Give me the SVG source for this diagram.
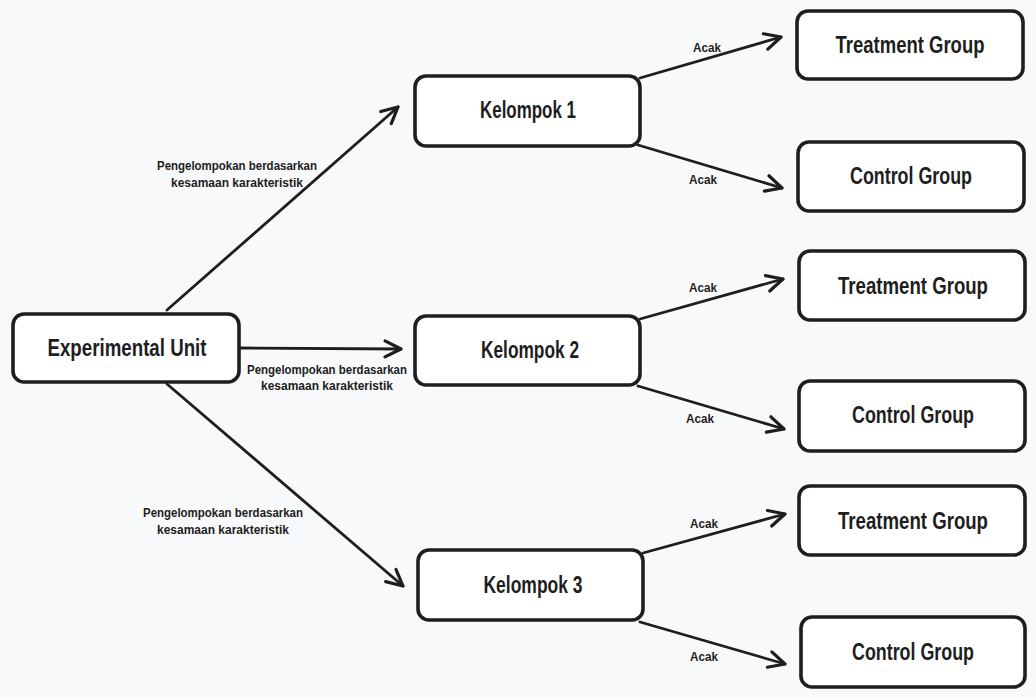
<svg xmlns="http://www.w3.org/2000/svg" width="1036" height="697" viewBox="0 0 1036 697">
<defs>
<marker id="arr" markerUnits="userSpaceOnUse" markerWidth="30" markerHeight="30" viewBox="-20 -15 30 30" refX="0" refY="0" orient="auto" overflow="visible">
<path d="M-16,-8 L0,0 L-16,8" fill="none" stroke="#1e1e1e" stroke-width="3.2" stroke-linecap="round" stroke-linejoin="round"/>
</marker>
<style>
.box{fill:#ffffff;stroke:#1e1e1e;stroke-width:3.6}
.t{font-family:"Liberation Sans",Arial,sans-serif;font-weight:bold;font-size:23px;fill:#1e1e1e;text-anchor:middle}
.s{font-family:"Liberation Sans",Arial,sans-serif;font-weight:bold;font-size:12.5px;fill:#1e1e1e;text-anchor:middle}
.c{stroke:#1e1e1e;stroke-width:2.8;fill:none;stroke-linecap:round;marker-end:url(#arr)}
</style>
</defs>
<rect width="1036" height="697" fill="#f8f9fb"/>
<g id="connectors">
<line class="c" x1="167" y1="310" x2="398" y2="107"/>
<line class="c" x1="241" y1="348" x2="401" y2="349"/>
<line class="c" x1="167" y1="384" x2="403" y2="586"/>
<line class="c" x1="640" y1="78" x2="781" y2="37"/>
<line class="c" x1="638" y1="145" x2="782" y2="188"/>
<line class="c" x1="640" y1="319" x2="783" y2="279"/>
<line class="c" x1="638" y1="386" x2="784" y2="429"/>
<line class="c" x1="643" y1="553" x2="785" y2="514"/>
<line class="c" x1="640" y1="622" x2="785" y2="664"/>
<text class="s" x="237" y="170" textLength="160" lengthAdjust="spacingAndGlyphs">Pengelompokan berdasarkan</text>
<text class="s" x="237" y="187" textLength="132" lengthAdjust="spacingAndGlyphs">kesamaan karakteristik</text>
<text class="s" x="327" y="374" textLength="160" lengthAdjust="spacingAndGlyphs">Pengelompokan berdasarkan</text>
<text class="s" x="327" y="390" textLength="132" lengthAdjust="spacingAndGlyphs">kesamaan karakteristik</text>
<text class="s" x="223" y="517" textLength="160" lengthAdjust="spacingAndGlyphs">Pengelompokan berdasarkan</text>
<text class="s" x="223" y="534" textLength="132" lengthAdjust="spacingAndGlyphs">kesamaan karakteristik</text>
<text class="s" x="707" y="52" textLength="28" lengthAdjust="spacingAndGlyphs">Acak</text>
<text class="s" x="703" y="184" textLength="28" lengthAdjust="spacingAndGlyphs">Acak</text>
<text class="s" x="703" y="292" textLength="28" lengthAdjust="spacingAndGlyphs">Acak</text>
<text class="s" x="700" y="423" textLength="28" lengthAdjust="spacingAndGlyphs">Acak</text>
<text class="s" x="704" y="528" textLength="28" lengthAdjust="spacingAndGlyphs">Acak</text>
<text class="s" x="704" y="661" textLength="28" lengthAdjust="spacingAndGlyphs">Acak</text>
</g>
<g id="experimental-unit">
<rect class="box" x="13" y="314" width="226" height="68" rx="11"/>
<text class="t" x="127" y="356" textLength="159" lengthAdjust="spacingAndGlyphs">Experimental Unit</text>
</g>
<g id="kelompok-1">
<rect class="box" x="415" y="76" width="225" height="70" rx="11"/>
<text class="t" x="528" y="118" textLength="96" lengthAdjust="spacingAndGlyphs">Kelompok 1</text>
</g>
<g id="kelompok-2">
<rect class="box" x="415" y="316" width="225" height="69" rx="11"/>
<text class="t" x="530" y="358" textLength="98" lengthAdjust="spacingAndGlyphs">Kelompok 2</text>
</g>
<g id="kelompok-3">
<rect class="box" x="418" y="550" width="225" height="70" rx="11"/>
<text class="t" x="533" y="593" textLength="99" lengthAdjust="spacingAndGlyphs">Kelompok 3</text>
</g>
<g id="treatment-1">
<rect class="box" x="797" y="11" width="226" height="68" rx="11"/>
<text class="t" x="910" y="53" textLength="149" lengthAdjust="spacingAndGlyphs">Treatment Group</text>
</g>
<g id="control-1">
<rect class="box" x="798" y="142" width="226" height="69" rx="11"/>
<text class="t" x="911" y="184" textLength="122" lengthAdjust="spacingAndGlyphs">Control Group</text>
</g>
<g id="treatment-2">
<rect class="box" x="799" y="251" width="226" height="69" rx="11"/>
<text class="t" x="913" y="294" textLength="150" lengthAdjust="spacingAndGlyphs">Treatment Group</text>
</g>
<g id="control-2">
<rect class="box" x="799" y="381" width="226" height="70" rx="11"/>
<text class="t" x="913" y="423" textLength="122" lengthAdjust="spacingAndGlyphs">Control Group</text>
</g>
<g id="treatment-3">
<rect class="box" x="799" y="486" width="226" height="69" rx="11"/>
<text class="t" x="913" y="529" textLength="150" lengthAdjust="spacingAndGlyphs">Treatment Group</text>
</g>
<g id="control-3">
<rect class="box" x="801" y="617" width="224" height="70" rx="11"/>
<text class="t" x="913" y="660" textLength="122" lengthAdjust="spacingAndGlyphs">Control Group</text>
</g>
</svg>
